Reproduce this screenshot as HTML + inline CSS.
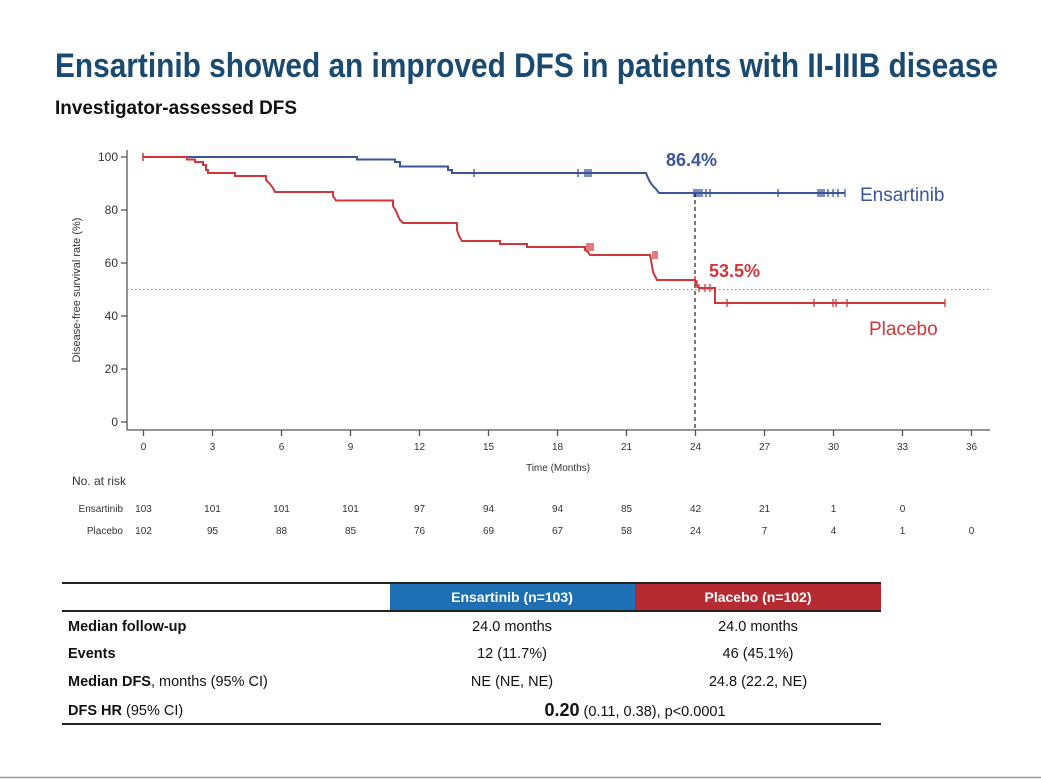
<!DOCTYPE html>
<html><head><meta charset="utf-8"><style>
html,body{margin:0;padding:0;background:#fff;}
svg{display:block;}
text{font-family:"Liberation Sans",Arial,sans-serif;}
.s{font-family:"Liberation Serif",serif;font-size:10px;fill:#333;}
</style></head><body>
<svg width="1041" height="779" viewBox="0 0 1041 779" xmlns="http://www.w3.org/2000/svg">
<text x="55" y="77" font-size="34" font-weight="bold" fill="#1b4a70" textLength="943" lengthAdjust="spacingAndGlyphs">Ensartinib showed an improved DFS in patients with II-IIIB disease</text>
<text x="55" y="114" font-size="19" font-weight="bold" fill="#111" textLength="242" lengthAdjust="spacingAndGlyphs">Investigator-assessed DFS</text>

<!-- axes -->
<g stroke="#555" stroke-width="1.3" fill="none">
<line x1="127" y1="150" x2="127" y2="430"/>
<line x1="127" y1="430" x2="990" y2="430"/>
<line x1="121" y1="157" x2="127" y2="157"/><line x1="121" y1="210" x2="127" y2="210"/>
<line x1="121" y1="263" x2="127" y2="263"/><line x1="121" y1="316" x2="127" y2="316"/>
<line x1="121" y1="369" x2="127" y2="369"/><line x1="121" y1="422" x2="127" y2="422"/>
<path d="M143.5 430v6M212.5 430v6M281.5 430v6M350.5 430v6M419.5 430v6M488.5 430v6M557.5 430v6M626.5 430v6M695.5 430v6M764.5 430v6M833.5 430v6M902.5 430v6M971.5 430v6"/>
</g>
<g font-size="12" fill="#333" text-anchor="end">
<text x="118" y="161">100</text><text x="118" y="214">80</text><text x="118" y="267">60</text>
<text x="118" y="320">40</text><text x="118" y="373">20</text><text x="118" y="426">0</text>
</g>
<text transform="translate(80,290) rotate(-90)" font-size="11" fill="#333" text-anchor="middle">Disease-free survival rate (%)</text>
<g class="s" text-anchor="middle">
<text x="143.5" y="450">0</text><text x="212.5" y="450">3</text><text x="281.5" y="450">6</text><text x="350.5" y="450">9</text>
<text x="419.5" y="450">12</text><text x="488.5" y="450">15</text><text x="557.5" y="450">18</text><text x="626.5" y="450">21</text>
<text x="695.5" y="450">24</text><text x="764.5" y="450">27</text><text x="833.5" y="450">30</text><text x="902.5" y="450">33</text><text x="971.5" y="450">36</text>
</g>
<text x="558" y="471" font-size="10" fill="#333" text-anchor="middle">Time (Months)</text>

<!-- median line -->
<line x1="127" y1="289.5" x2="990" y2="289.5" stroke="#d66" stroke-width="1" stroke-dasharray="1.5,2.5"/>
<line x1="695" y1="193" x2="695" y2="430" stroke="#222" stroke-width="1.2" stroke-dasharray="4,3"/>

<!-- Ensartinib -->
<polyline fill="none" stroke="#3b559a" stroke-width="2" points="143,157 357,157 357,159.5 395,159.5 395,162 400,162 400,166.5 448,166.5 448,170 452,170 452,173 646,173 648,178 650,182 653,186 656,189 659,193 845,193"/>
<g stroke="#3b559a" stroke-width="1.3">
<path d="M143 153v8M474 169v8M578 169v8M585 169v8M587 169v8M589 169v8M591 169v8M694 189v8M696 189v8M698 189v8M700 189v8M702 189v8M706 189v8M710 189v8M778 189v8M818 189v8M820 189v8M822 189v8M824 189v8M828 189v8M833 189v8M838 189v8M845 189v8"/>
</g>
<!-- Placebo -->
<polyline fill="none" stroke="#d0363a" stroke-width="2" points="143,157 187,157 187,159.5 195,159.5 195,162 203,162 203,165 206,165 206,170 208,170 208,173 235,173 235,176 266,176 266,180 270,184 273,188 275,192 333,192 333,196 336,200.5 393,200.5 393,206 396,211 398,216 400,220 403,223 457,223 457,230 459,236 462,241 500,241 500,244 527,244 527,247 585,247 585,250 588,252 590,255 650,255 651,260 652,266 653,272 655,276 657,280 695,280 696,284 698,287 700,288 715,288 715,303 945,303"/>
<g stroke="#d0363a" stroke-width="1.3">
<path d="M143 153v8M587 243v8M589 243v8M591 243v8M593 243v8M653 251v8M655 251v8M657 251v8M695 276v8M697 280v8M699 284v8M705 284v8M710 284v8M727 299v8M814 299v8M833 299v8M836 299v8M847 299v8M945 299v8"/>
</g>
<text x="666" y="166" font-size="18" font-weight="bold" fill="#3b559a">86.4%</text>
<text x="709" y="277" font-size="18" font-weight="bold" fill="#d0363a">53.5%</text>
<text x="860" y="201" font-size="19" fill="#3b559a">Ensartinib</text>
<text x="869" y="335" font-size="19" fill="#d0363a">Placebo</text>

<!-- at risk -->
<text x="72" y="485" font-size="12" fill="#333">No. at risk</text>
<text x="123" y="512" font-size="10" fill="#333" text-anchor="end">Ensartinib</text>
<text x="123" y="534" font-size="10" fill="#333" text-anchor="end">Placebo</text>
<g class="s" text-anchor="middle">
<text x="143.5" y="512">103</text><text x="212.5" y="512">101</text><text x="281.5" y="512">101</text><text x="350.5" y="512">101</text><text x="419.5" y="512">97</text><text x="488.5" y="512">94</text><text x="557.5" y="512">94</text><text x="626.5" y="512">85</text><text x="695.5" y="512">42</text><text x="764.5" y="512">21</text><text x="833.5" y="512">1</text><text x="902.5" y="512">0</text>
<text x="143.5" y="534">102</text><text x="212.5" y="534">95</text><text x="281.5" y="534">88</text><text x="350.5" y="534">85</text><text x="419.5" y="534">76</text><text x="488.5" y="534">69</text><text x="557.5" y="534">67</text><text x="626.5" y="534">58</text><text x="695.5" y="534">24</text><text x="764.5" y="534">7</text><text x="833.5" y="534">4</text><text x="902.5" y="534">1</text><text x="971.5" y="534">0</text>
</g>

<!-- table -->
<rect x="390" y="583" width="245" height="28" fill="#1f6fb4"/>
<rect x="635" y="583" width="246" height="28" fill="#b52b31"/>
<line x1="62" y1="583" x2="881" y2="583" stroke="#222" stroke-width="2"/>
<line x1="62" y1="611" x2="881" y2="611" stroke="#222" stroke-width="2"/>
<line x1="62" y1="724" x2="881" y2="724" stroke="#222" stroke-width="2"/>
<text x="512" y="602" font-size="14" font-weight="bold" fill="#fff" text-anchor="middle">Ensartinib (n=103)</text>
<text x="758" y="602" font-size="14" font-weight="bold" fill="#fff" text-anchor="middle">Placebo (n=102)</text>
<g font-size="14.5" fill="#111">
<text x="68" y="631" font-weight="bold">Median follow-up</text>
<text x="68" y="658" font-weight="bold">Events</text>
<text x="68" y="686"><tspan font-weight="bold">Median DFS</tspan>, months (95% CI)</text>
<text x="68" y="715"><tspan font-weight="bold">DFS HR</tspan> (95% CI)</text>
</g>
<g font-size="14.5" fill="#111" text-anchor="middle">
<text x="512" y="631">24.0 months</text><text x="758" y="631">24.0 months</text>
<text x="512" y="658">12 (11.7%)</text><text x="758" y="658">46 (45.1%)</text>
<text x="512" y="686">NE (NE, NE)</text><text x="758" y="686">24.8 (22.2, NE)</text>
<text x="635" y="716"><tspan font-size="18" font-weight="bold">0.20</tspan> (0.11, 0.38), p&lt;0.0001</text>
</g>
<line x1="0" y1="777.5" x2="1041" y2="777.5" stroke="#999" stroke-width="1.5"/>
</svg>
</body></html>
